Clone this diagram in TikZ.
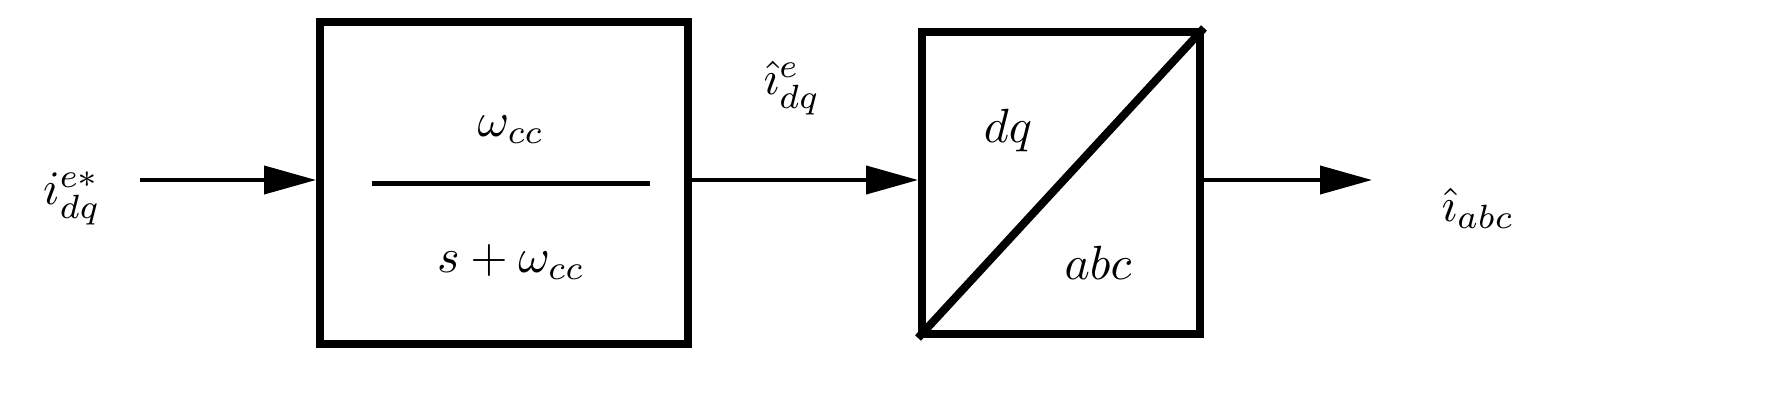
\documentclass[tikz,border=0pt]{standalone}
\usepackage{amsmath}
\usetikzlibrary{arrows.meta}
\begin{document}
\begin{tikzpicture}[x=1pt,y=-1pt,
  blk/.style={draw,line width=8pt},
  conn/.style={line width=4pt,-{Triangle[length=52pt,width=28pt]}},
  lbl/.style={scale=4.8}]
\useasboundingbox (0,0) rectangle (1786,415);
\node[blk,minimum width=368pt,minimum height=322pt,anchor=north west] (b1) at (316,18) {};
\node[blk,minimum width=278pt,minimum height=302pt,anchor=north west] (b2) at (918,28) {};
\draw[line width=8pt] (b2.south west) -- (b2.north east);
\draw[line width=5pt] (372,183) -- (650,183);
\node[lbl] (num) at (511,130) {$\omega_{cc}$};
\node[lbl] (den) at (511,262) {$s+\omega_{cc}$};
\node[lbl] (dq) at (1008,130) {$dq$};
\node[lbl] (abc) at (1098,263) {$abc$};
\node[lbl] (in) at (72,198) {$i_{dq}^{e*}$};
\node[lbl] (mid) at (792,88) {$\hat{\imath}_{dq}^{e}$};
\node[lbl] (out) at (1478,208) {$\hat{\imath}_{abc}$};
\coordinate (s1) at (140,180);
\coordinate (e3) at (1372,180);
\draw[conn] (s1) -- (b1.west|-s1);
\draw[conn] (b1.east|-s1) -- (b2.west|-s1);
\draw[conn] (b2.east|-s1) -- (e3);
\end{tikzpicture}
\end{document}
